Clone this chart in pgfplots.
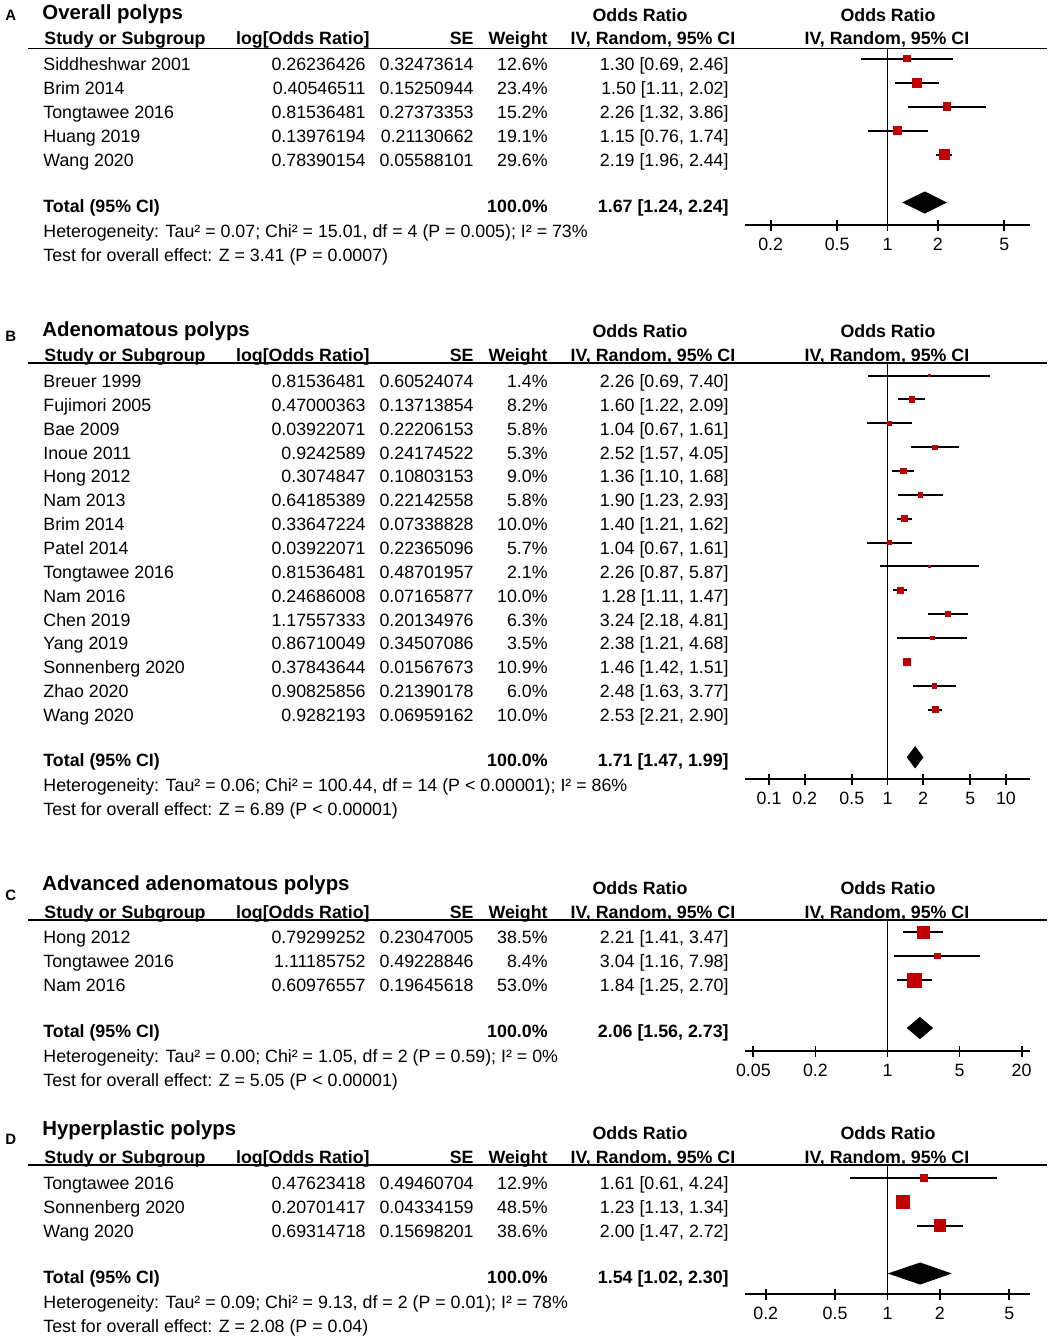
\documentclass[border=0pt]{standalone}
\usepackage{pgfplots}
\pgfplotsset{compat=1.18}
\usepackage{pgfplotstable}
\usepackage{fontspec}
\setmainfont{Liberation Sans}

\definecolor{srred}{HTML}{C00000}
\newcommand\bodyfont{\fontsize{8.9}{10.7}\selectfont}
\newcommand\hdfont{\bfseries\fontsize{8.9}{10.7}\selectfont}

% one study row: baseline, name, log OR, SE, weight, OR [CI]
\newcommand\srow[6]{%
  \node[anchor=base west] at (43,#1) {#2};
  \node[anchor=base east] at (366,#1) {#3};
  \node[anchor=base east] at (474,#1) {#4};
  \node[anchor=base east] at (548,#1) {#5\%};
  \node[anchor=base east] at (729,#1) {#6};}
% header: baseline of "Odds Ratio", baseline of column names, rule
\newcommand\shead[3]{%
  \node[anchor=base,font=\hdfont] at (640,#1) {Odds Ratio};
  \node[anchor=base,font=\hdfont] at (888,#1) {Odds Ratio};
  \node[anchor=base west,font=\hdfont] at (44,#2) {Study or Subgroup};
  \node[anchor=base east,font=\hdfont] at (370,#2) {log[Odds Ratio]};
  \node[anchor=base east,font=\hdfont] at (474,#2) {SE};
  \node[anchor=base east,font=\hdfont] at (548,#2) {Weight};
  \node[anchor=base,font=\hdfont] at (653,#2) {IV, Random, 95\% CI};
  \node[anchor=base,font=\hdfont] at (887,#2) {IV, Random, 95\% CI};
  \draw[line width=0.7pt] (28,#3) -- (1047,#3);}
% total + heterogeneity lines
\newcommand\stotal[4]{%
  \node[anchor=base west,font=\hdfont] at (43,#1) {Total (95\% CI)};
  \node[anchor=base east,font=\hdfont] at (548,#1) {100.0\%};
  \node[anchor=base east,font=\hdfont] at (729,#1) {#2};
  \node[anchor=base west] at (43,#1+25.5) {#3};
  \node[anchor=base west] at (43,#1+49.5) {#4};}
\newcommand\stitle[4]{%
  \node[anchor=base west,font=\bfseries\fontsize{7.5}{8}\selectfont] at (5,#1) {#2};
  \node[anchor=base west,font=\bfseries\fontsize{10.2}{12}\selectfont] at (42,#3) {#4};}

\pgfplotsset{
  fplot/.style={
    scale only axis, anchor=north west, width=142.5pt,
    y dir=reverse, clip=false,
    axis x line*=bottom, axis y line=none, ytick=\empty,
    tick align=center, major tick length=5.5pt, minor tick length=0pt,
    axis line style={line width=0.9pt}, tick style={line width=0.9pt, black},
    tick label style={font=\bodyfont},
    xticklabel style={yshift=-3.5pt},
  },
  study/.style={
    scatter, only marks, mark=square*,
    scatter/use mapped color={draw=srred, fill=srred},
    point meta=\thisrow{w},
    visualization depends on={max(0.62,0.475*sqrt(\thisrow{w})) \as \msize},
    scatter/@pre marker code/.append style={/tikz/mark size=\msize},
    error bars/x dir=both, error bars/x explicit, error bars/error mark=none,
    error bars/error bar style={black, line width=1pt},
  },
}

\pgfplotstableread{
row or lo hi w
0 1.30 0.69 2.46 12.6
1 1.50 1.11 2.02 23.4
2 2.26 1.32 3.86 15.2
3 1.15 0.76 1.74 19.1
4 2.19 1.96 2.44 29.6
}\dataA
\pgfplotstableread{
row or lo hi w
0 2.26 0.69 7.40 1.4
1 1.60 1.22 2.09 8.2
2 1.04 0.67 1.61 5.8
3 2.52 1.57 4.05 5.3
4 1.36 1.10 1.68 9.0
5 1.90 1.23 2.93 5.8
6 1.40 1.21 1.62 10.0
7 1.04 0.67 1.61 5.7
8 2.26 0.87 5.87 2.1
9 1.28 1.11 1.47 10.0
10 3.24 2.18 4.81 6.3
11 2.38 1.21 4.68 3.5
12 1.46 1.42 1.51 10.9
13 2.48 1.63 3.77 6.0
14 2.53 2.21 2.90 10.0
}\dataB
\pgfplotstableread{
row or lo hi w
0 2.21 1.41 3.47 38.5
1 3.04 1.16 7.98 8.4
2 1.84 1.25 2.70 53.0
}\dataC
\pgfplotstableread{
row or lo hi w
0 1.61 0.61 4.24 12.9
1 1.23 1.13 1.34 48.5
2 2.00 1.47 2.72 38.6
}\dataD

\begin{document}
\begin{tikzpicture}[x=0.5pt, y=-0.5pt, font=\bodyfont, every node/.style={inner sep=0pt}]
\path[use as bounding box] (0,0) rectangle (1050,1339);

% ---------------- A ----------------
\stitle{20.5}{A}{19.3}{Overall polyps}
\shead{21.4}{44.4}{48.5}
\srow{70.4}{Siddheshwar 2001}{0.26236426}{0.32473614}{12.6}{1.30 [0.69, 2.46]}
\srow{94.4}{Brim 2014}{0.40546511}{0.15250944}{23.4}{1.50 [1.11, 2.02]}
\srow{118.4}{Tongtawee 2016}{0.81536481}{0.27373353}{15.2}{2.26 [1.32, 3.86]}
\srow{142.4}{Huang 2019}{0.13976194}{0.21130662}{19.1}{1.15 [0.76, 1.74]}
\srow{166.4}{Wang 2020}{0.78390154}{0.05588101}{29.6}{2.19 [1.96, 2.44]}
\stotal{212.4}{1.67 [1.24, 2.24]}{Heterogeneity: Tau² = 0.07; Chi² = 15.01, df = 4 (P = 0.005); I² = 73\%}{Test for overall effect: Z = 3.41 (P = 0.0007)}

% ---------------- B ----------------
\stitle{341.5}{B}{336.3}{Adenomatous polyps}
\shead{337.4}{361.4}{363}
\srow{387.4}{Breuer 1999}{0.81536481}{0.60524074}{1.4}{2.26 [0.69, 7.40]}
\srow{411.3}{Fujimori 2005}{0.47000363}{0.13713854}{8.2}{1.60 [1.22, 2.09]}
\srow{435.1}{Bae 2009}{0.03922071}{0.22206153}{5.8}{1.04 [0.67, 1.61]}
\srow{459.0}{Inoue 2011}{0.9242589}{0.24174522}{5.3}{2.52 [1.57, 4.05]}
\srow{482.8}{Hong 2012}{0.3074847}{0.10803153}{9.0}{1.36 [1.10, 1.68]}
\srow{506.7}{Nam 2013}{0.64185389}{0.22142558}{5.8}{1.90 [1.23, 2.93]}
\srow{530.6}{Brim 2014}{0.33647224}{0.07338828}{10.0}{1.40 [1.21, 1.62]}
\srow{554.4}{Patel 2014}{0.03922071}{0.22365096}{5.7}{1.04 [0.67, 1.61]}
\srow{578.3}{Tongtawee 2016}{0.81536481}{0.48701957}{2.1}{2.26 [0.87, 5.87]}
\srow{602.1}{Nam 2016}{0.24686008}{0.07165877}{10.0}{1.28 [1.11, 1.47]}
\srow{626.0}{Chen 2019}{1.17557333}{0.20134976}{6.3}{3.24 [2.18, 4.81]}
\srow{649.9}{Yang 2019}{0.86710049}{0.34507086}{3.5}{2.38 [1.21, 4.68]}
\srow{673.7}{Sonnenberg 2020}{0.37843644}{0.01567673}{10.9}{1.46 [1.42, 1.51]}
\srow{697.6}{Zhao 2020}{0.90825856}{0.21390178}{6.0}{2.48 [1.63, 3.77]}
\srow{721.4}{Wang 2020}{0.9282193}{0.06959162}{10.0}{2.53 [2.21, 2.90]}
\stotal{766.4}{1.71 [1.47, 1.99]}{Heterogeneity: Tau² = 0.06; Chi² = 100.44, df = 14 (P < 0.00001); I² = 86\%}{Test for overall effect: Z = 6.89 (P < 0.00001)}

% ---------------- C ----------------
\stitle{900.5}{C}{890.3}{Advanced adenomatous polyps}
\shead{894.4}{918.4}{920}
\srow{943.4}{Hong 2012}{0.79299252}{0.23047005}{38.5}{2.21 [1.41, 3.47]}
\srow{967.4}{Tongtawee 2016}{1.11185752}{0.49228846}{8.4}{3.04 [1.16, 7.98]}
\srow{991.4}{Nam 2016}{0.60976557}{0.19645618}{53.0}{1.84 [1.25, 2.70]}
\stotal{1037.4}{2.06 [1.56, 2.73]}{Heterogeneity: Tau² = 0.00; Chi² = 1.05, df = 2 (P = 0.59); I² = 0\%}{Test for overall effect: Z = 5.05 (P < 0.00001)}

% ---------------- D ----------------
\stitle{1144.5}{D}{1135.3}{Hyperplastic polyps}
\shead{1139.4}{1163.4}{1165}
\srow{1189.4}{Tongtawee 2016}{0.47623418}{0.49460704}{12.9}{1.61 [0.61, 4.24]}
\srow{1213.4}{Sonnenberg 2020}{0.20701417}{0.04334159}{48.5}{1.23 [1.13, 1.34]}
\srow{1237.4}{Wang 2020}{0.69314718}{0.15698201}{38.6}{2.00 [1.47, 2.72]}
\stotal{1283.4}{1.54 [1.02, 2.30]}{Heterogeneity: Tau² = 0.09; Chi² = 9.13, df = 2 (P = 0.01); I² = 78\%}{Test for overall effect: Z = 2.08 (P = 0.04)}

\coordinate (pA) at (745,48.5);
\coordinate (pB) at (745,363);
\coordinate (pC) at (745,920);
\coordinate (pD) at (745,1165);

% forest plot A
\begin{axis}[xmode=log, fplot, at={(pA)}, height=88.25pt,
  xmin=0.1404, xmax=7.12, ymin=-0.417, ymax=6.9375,
  xtick={0.2,0.5,1,2,5}, xticklabels={0.2,0.5,1,2,5}]
\addplot[black, line width=0.9pt] coordinates {(1,-0.417) (1,6.9375)};
\addplot[study] table[x=or, y=row, x error plus expr=\thisrow{hi}-\thisrow{or}, x error minus expr=\thisrow{or}-\thisrow{lo}] {\dataA};
\addplot[fill=black, draw=black] coordinates {(1.24,6) (1.67,5.56) (2.24,6) (1.67,6.44)} -- cycle;
\end{axis}

% forest plot B
\begin{axis}[xmode=log, fplot, at={(pB)}, height=208pt,
  xmin=0.0627, xmax=15.95, ymin=-0.524, ymax=16.911,
  xtick={0.1,0.2,0.5,1,2,5,10}, xticklabels={0.1,0.2,0.5,1,2,5,10}]
\addplot[black, line width=0.9pt] coordinates {(1,-0.524) (1,16.911)};
\addplot[study] table[x=or, y=row, x error plus expr=\thisrow{hi}-\thisrow{or}, x error minus expr=\thisrow{or}-\thisrow{lo}] {\dataB};
\addplot[fill=black, draw=black] coordinates {(1.47,16) (1.71,15.56) (1.99,16) (1.71,16.44)} -- cycle;
\end{axis}

% forest plot C
\begin{axis}[xmode=log, fplot, at={(pC)}, height=65.5pt,
  xmin=0.0415, xmax=24.1, ymin=-0.5, ymax=4.958,
  xtick={0.05,0.2,1,5,20}, xticklabels={0.05,0.2,1,5,20}]
\addplot[black, line width=0.9pt] coordinates {(1,-0.5) (1,4.958)};
\addplot[study] table[x=or, y=row, x error plus expr=\thisrow{hi}-\thisrow{or}, x error minus expr=\thisrow{or}-\thisrow{lo}] {\dataC};
\addplot[fill=black, draw=black] coordinates {(1.56,4) (2.06,3.56) (2.73,4) (2.06,4.44)} -- cycle;
\end{axis}

% forest plot D
\begin{axis}[xmode=log, fplot, at={(pD)}, height=64.5pt,
  xmin=0.152, xmax=6.58, ymin=-0.521, ymax=4.854,
  xtick={0.2,0.5,1,2,5}, xticklabels={0.2,0.5,1,2,5}]
\addplot[black, line width=0.9pt] coordinates {(1,-0.521) (1,4.854)};
\addplot[study] table[x=or, y=row, x error plus expr=\thisrow{hi}-\thisrow{or}, x error minus expr=\thisrow{or}-\thisrow{lo}] {\dataD};
\addplot[fill=black, draw=black] coordinates {(1.02,4) (1.54,3.56) (2.30,4) (1.54,4.44)} -- cycle;
\end{axis}
\end{tikzpicture}
\end{document}
